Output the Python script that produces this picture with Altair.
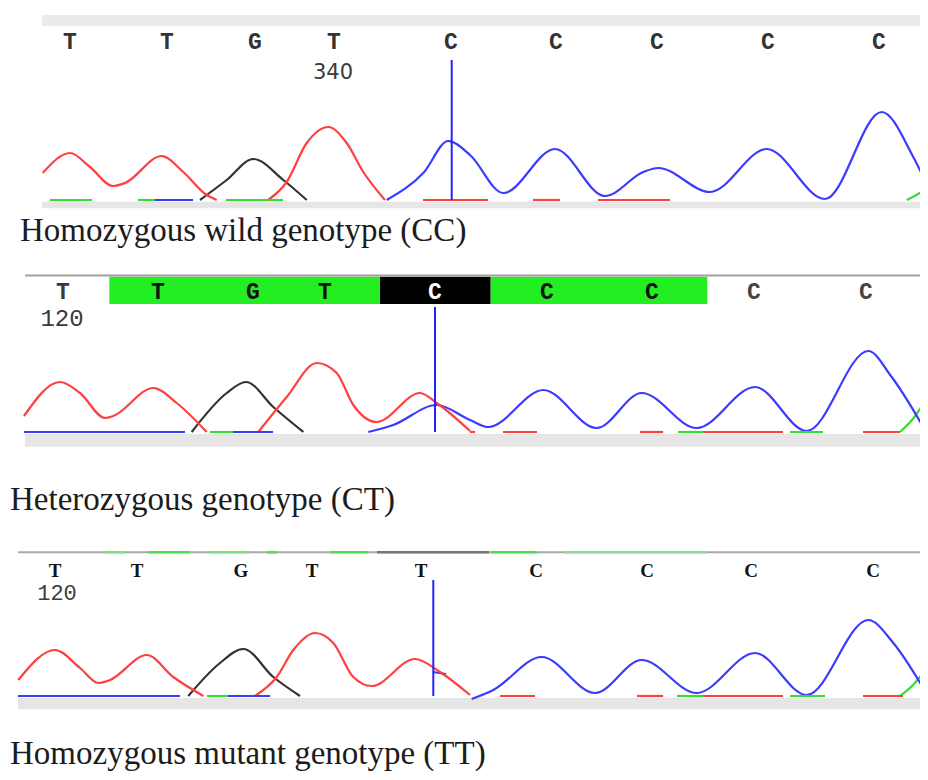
import altair as alt
import pandas as pd

# ---------------- values ----------------
# Traces: x = scan position, y = signal intensity above the baseline
# Channel colours: A green, C blue, G black, T red

# Panel 1 - Homozygous wild genotype (CC)
P1_T = [
    [(42.7, 27), (70, 47), (90, 33), (113, 14), (125, 17), (161.7, 44), (183.3, 28), (206.7, 5), (216.7, 0)],
    [(268.3, 0), (286.7, 18), (306.7, 57), (328.3, 73), (346.7, 57), (363.3, 28), (385, 0)],
]
P1_G = [[(200, 0), (226.7, 20), (253.3, 41), (283.3, 20), (306.7, 0)]]
P1_C = [[(386.7, 0), (423.3, 27), (448.3, 59), (470, 45), (503.3, 7), (555, 51), (605, 4), (643.3, 28),
         (658.3, 32), (710, 8), (766.7, 51), (825, 1), (881.7, 88), (913.3, 43), (928, 13)]]
P1_A = [[(906.7, 0), (918, 6), (928, 13)]]
P1_FLAT = [("A", 50, 92), ("A", 138, 155), ("C", 155, 193), ("A", 226, 283),
           ("T", 423, 488), ("T", 533, 560), ("T", 598, 670)]
P1_BASES = ["T", "T", "G", "T", "C", "C", "C", "C", "C"]
P1_BASE_POS = [70, 167, 255, 334, 451, 556, 657, 768, 879]
P1_NUMBER = ("340", 333)
P1_MARK = (451.7, 140)

# Panel 2 - Heterozygous genotype (CT)
P2_T = [
    [(24, 16), (60, 50), (80, 39), (105, 14), (113.3, 16), (153.3, 44), (176.7, 29), (206.7, 0)],
    [(258.3, 0), (286.7, 35), (316.7, 69), (336.7, 59), (353.3, 27), (376.7, 10), (420, 39),
     (436.7, 29), (470, 1)],
]
P2_G = [[(191.7, 0), (226.7, 39), (246, 50), (273.3, 25), (303.3, 0)]]
P2_C = [[(368.3, 0), (393.3, 7), (436.7, 27), (470, 12), (488.3, 5), (543.3, 42), (596.7, 4), (641.7, 39),
         (696.7, 4), (755, 45), (806.7, 1), (868.3, 81), (891.7, 55), (923.3, 5)]]
P2_A = [[(900, 0), (912, 12), (924, 29)]]
P2_FLAT = [("C", 24, 185), ("A", 210, 233), ("C", 233, 273), ("T", 470, 475), ("T", 503, 537),
           ("T", 640, 663), ("A", 678, 703), ("T", 703, 783), ("A", 790, 823), ("T", 863, 900)]
P2_BASES = ["T", "T", "G", "T", "C", "C", "C", "C", "C"]
P2_BASE_POS = [63, 158, 253, 325, 435, 547, 652, 754, 866]
P2_BASE_COLORS = ["#3a3a3a", "#111111", "#111111", "#111111", "#ffffff", "#111111", "#111111", "#444444", "#444444"]
P2_BANDS = [(109.3, 380, "#22ee22"), (380, 490.7, "#000000"), (490.7, 707.3, "#22ee22")]
P2_NUMBER = ("120", 62)
P2_MARK = (435, 125)

# Panel 3 - Homozygous mutant genotype (TT)
P3_T = [
    [(18.3, 16), (55, 46), (80, 28), (98.3, 13), (110, 16), (146.7, 41), (173.3, 19), (203.3, 0)],
    [(255, 0), (276.7, 19), (293.3, 46), (315, 63), (333.3, 53), (353.3, 19), (371.7, 10), (415, 37),
     (440, 24), (470, 1)],
]
P3_G = [[(188.3, 0), (220, 33), (243.3, 47), (273.3, 19), (300, 0)]]
P3_C = [[(471.7, -3), (493.3, 6), (541.7, 39), (595, 3), (641.7, 36), (696.7, 3), (755, 43), (806.7, 1),
         (868.3, 76), (893.3, 53), (925, 5)],
        [(433, 24), (446, 22)]]
P3_A = [[(900, 0), (913, 11), (926, 27)]]
P3_FLAT = [("C", 18, 180), ("A", 207, 228), ("C", 228, 270), ("T", 500, 535), ("T", 637, 663),
           ("A", 677, 703), ("T", 703, 783), ("A", 790, 825), ("T", 863, 903)]
P3_BASES = ["T", "T", "G", "T", "T", "C", "C", "C", "C"]
P3_BASE_POS = [55, 137, 241, 312, 421, 536, 647, 751, 873]
P3_TOPMARKS = [("#7ddf7d", 103, 125), ("#55dd55", 148, 190), ("#7ddf7d", 210, 250), ("#55dd55", 267, 277),
               ("#55dd55", 330, 368), ("#777777", 377, 489), ("#55dd55", 491, 537), ("#8fdc8f", 564, 707)]
P3_NUMBER = ("120", 57)
P3_MARK = (433.3, 116)

CAPTIONS = ["Homozygous wild genotype (CC)", "Heterozygous genotype (CT)", "Homozygous mutant genotype (TT)"]

CHANNELS = ["A", "C", "G", "T"]
CHANNEL_COLORS = ["#33dd33", "#3b3bff", "#333333", "#ff4040"]

XDOM = [8, 920]
W = 912


def trace_frame(traces, flats):
    rows = []
    k = 0
    for ch, segs in traces.items():
        for seg in segs:
            for i, (x, y) in enumerate(seg):
                rows.append({"ch": ch, "seg": f"s{k}", "x": x, "y": y, "o": i})
            k += 1
    for ch, x0, x1 in flats:
        rows.append({"ch": ch, "seg": f"f{k}", "x": x0, "y": 0, "o": 0})
        rows.append({"ch": ch, "seg": f"f{k}", "x": x1, "y": 0, "o": 1})
        k += 1
    return pd.DataFrame(rows)


def xs():
    return alt.Scale(domain=XDOM)


def panel(height, ydom, traces, flats, mark, bases, base_pos, base_y, base_font, base_colors,
          number, number_y, number_font, caption, caption_x, caption_y, bar_x, bar_y,
          top_layers):
    ysc = alt.Scale(domain=ydom)
    X = lambda f: alt.X(f, scale=xs(), axis=None)
    Y = lambda f: alt.Y(f, scale=ysc, axis=None)

    bar = alt.Chart(pd.DataFrame([{"x": bar_x[0], "x2": bar_x[1], "y": bar_y[0], "y2": bar_y[1]}])).mark_rect(
        color="#e6e6e6", clip=True).encode(x=X("x:Q"), x2="x2:Q", y=Y("y:Q"), y2="y2:Q")

    df = trace_frame(traces, flats)
    lines = alt.Chart(df).mark_line(interpolate="monotone", strokeWidth=2.2, clip=True).encode(
        x=X("x:Q"), y=Y("y:Q"), detail="seg:N", order="o:Q",
        color=alt.Color("ch:N", scale=alt.Scale(domain=CHANNELS, range=CHANNEL_COLORS), legend=None))

    vline = alt.Chart(pd.DataFrame([{"x": mark[0], "y": 0, "y2": mark[1]}])).mark_rule(
        color="#2323ff", strokeWidth=2, clip=True).encode(x=X("x:Q"), y=Y("y:Q"), y2="y2:Q")

    bdf = pd.DataFrame({"b": bases, "x": base_pos, "c": base_colors})
    letters = alt.Chart(bdf).mark_text(baseline="middle", align="center", **base_font).encode(
        x=X("x:Q"), y=alt.value(base_y), text="b:N", color=alt.Color("c:N", scale=None, legend=None))

    ndf = pd.DataFrame([{"t": number[0], "x": number[1]}])
    num = alt.Chart(ndf).mark_text(baseline="middle", align="center", color="#3a3a3a", **number_font).encode(
        x=X("x:Q"), y=alt.value(number_y), text="t:N")

    cap = alt.Chart(pd.DataFrame([{"t": caption}])).mark_text(
        align="left", baseline="alphabetic", font="Liberation Serif", fontSize=33, color="#1c1c1c").encode(
        x=alt.value(caption_x), y=alt.value(caption_y), text="t:N")

    layers = [bar] + top_layers(X, Y) + [lines, vline, letters, num, cap]
    return alt.layer(*layers).properties(width=W, height=height)


# ---- panel 1 ----
def p1_top(X, Y):
    return [alt.Chart(pd.DataFrame([{"x": 42, "x2": 928, "y": 185, "y2": 174}])).mark_rect(
        color="#ebebeb", clip=True).encode(x=X("x:Q"), x2="x2:Q", y=Y("y:Q"), y2="y2:Q")]


bold_mono = {"font": "Liberation Mono", "fontSize": 23, "fontWeight": "bold"}
p1 = panel(247, [-55, 192], {"A": P1_A, "C": P1_C, "G": P1_G, "T": P1_T}, P1_FLAT, P1_MARK,
           P1_BASES, P1_BASE_POS, 34, bold_mono, ["#333333"] * 9,
           P1_NUMBER, 65, {"font": "DejaVu Sans", "fontSize": 21},
           CAPTIONS[0], 12, 233, (42, 928), (-1.7, -8.3), p1_top)


# ---- panel 2 ----
def p2_top(X, Y):
    bdf = pd.DataFrame([{"x": a, "x2": b, "c": c, "y": 155.3, "y2": 128} for a, b, c in P2_BANDS])
    bands = alt.Chart(bdf).mark_rect(clip=True).encode(x=X("x:Q"), x2="x2:Q", y=Y("y:Q"), y2="y2:Q",
                                                       color=alt.Color("c:N", scale=None, legend=None))
    top = alt.Chart(pd.DataFrame([{"x": 25, "x2": 924, "y": 156.5}])).mark_rule(
        color="#a0a0a0", strokeWidth=2, clip=True).encode(x=X("x:Q"), x2="x2:Q", y=Y("y:Q"))
    return [bands, top]


p2 = panel(275, [-98, 177], {"A": P2_A, "C": P2_C, "G": P2_G, "T": P2_T}, P2_FLAT, P2_MARK,
           P2_BASES, P2_BASE_POS, 36.5, bold_mono, P2_BASE_COLORS,
           P2_NUMBER, 64, {"font": "Liberation Mono", "fontSize": 24},
           CAPTIONS[1], 2, 255, (25, 922), (-2, -14.7), p2_top)


# ---- panel 3 ----
def p3_top(X, Y):
    top = alt.Chart(pd.DataFrame([{"x": 18, "x2": 928, "y": 143.7}])).mark_rule(
        color="#a8a8a8", strokeWidth=2, clip=True).encode(x=X("x:Q"), x2="x2:Q", y=Y("y:Q"))
    mdf = pd.DataFrame([{"c": c, "x": a, "x2": b, "y": 143.7} for c, a, b in P3_TOPMARKS])
    marks = alt.Chart(mdf).mark_rule(strokeWidth=2.5, clip=True).encode(
        x=X("x:Q"), x2="x2:Q", y=Y("y:Q"), color=alt.Color("c:N", scale=None, legend=None))
    return [top, marks]


p3 = panel(242, [-76, 166], {"A": P3_A, "C": P3_C, "G": P3_G, "T": P3_T}, P3_FLAT, P3_MARK,
           P3_BASES, P3_BASE_POS, 41, {"font": "Liberation Serif", "fontSize": 19, "fontWeight": "bold"},
           ["#141414"] * 9,
           P3_NUMBER, 62.5, {"font": "Liberation Mono", "fontSize": 22},
           CAPTIONS[2], 2, 234, (18, 925), (-2, -13.3), p3_top)

chart = alt.vconcat(p1, p2, p3, spacing=0).properties(padding=0).configure_view(stroke=None).configure_concat(spacing=0)

chart.save("out.html", embed_options={"renderer": "svg", "actions": False})
